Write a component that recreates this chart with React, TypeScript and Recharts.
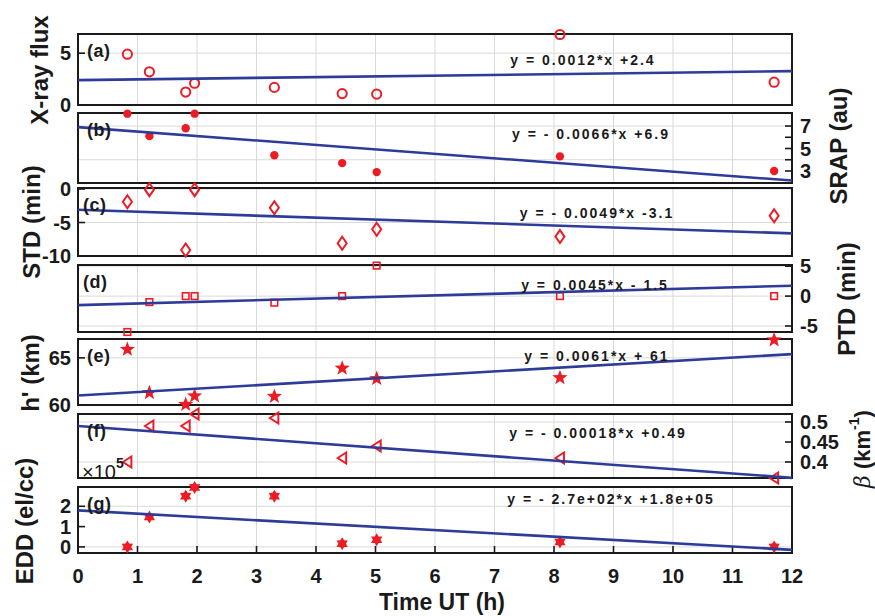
import React from "react";
import { ScatterChart, Scatter, XAxis, YAxis, CartesianGrid } from "recharts";

// event times (UT hours), shared by every panel
const hours = [0.83, 1.2, 1.81, 1.96, 3.3, 4.44, 5.02, 8.1, 11.7];

const xrayFlux = [4.9, 3.2, 1.25, 2.1, 1.7, 1.1, 1.05, 6.8, 2.2];
const srap = [8.1, 6.1, 6.8, 8.1, 4.4, 3.7, 2.9, 4.3, 3.0];
const std = [-1.9, -0.1, -9.1, -0.1, -2.8, -8.1, -6.0, -7.1, -4.0];
const ptd = [-6.0, -1.0, 0, 0, -1.1, 0, 5.1, 0, 0];
const hPrime = [65.9, 61.3, 60.05, 60.95, 60.9, 63.9, 62.8, 62.9, 66.9];
const beta = [0.4, 0.49, 0.49, 0.52, 0.51, 0.41, 0.44, 0.41, 0.36];
const edd = [0.0, 1.47, 2.5, 2.93, 2.5, 0.16, 0.35, 0.24, 0.0]; // x 1e5

// linear fits, x in minutes
const fitSlope = [0.0012, -0.0066, -0.0049, 0.0045, 0.0061, -0.00018, -0.0027];
const fitIntercept = [2.4, 6.9, -3.1, -1.5, 61, 0.49, 1.8];
const fitLabels = [
  "y = 0.0012*x +2.4",
  "y = - 0.0066*x +6.9",
  "y = - 0.0049*x -3.1",
  "y = 0.0045*x - 1.5",
  "y = 0.0061*x + 61",
  "y = - 0.00018*x +0.49",
  "y = - 2.7e+02*x +1.8e+05",
];
const panelLetters = ["(a)", "(b)", "(c)", "(d)", "(e)", "(f)", "(g)"];

const xTicks = [0, 1, 2, 3, 4, 5, 6, 7, 8, 9, 10, 11, 12];
const xGrid = [1, 2, 3, 4, 5, 6, 7, 8, 9, 10, 11];

const RED = "#ec1c24";
const BLUE = "#2e3b98";
const INK = "#1a1a1a";
const FONT = "'Liberation Sans', Arial, Helvetica, sans-serif";

const openCircle = (p: any) => (
  <circle cx={p.cx} cy={p.cy} r={4.6} fill="none" stroke={RED} strokeWidth={2} />
);
const dot = (p: any) => <circle cx={p.cx} cy={p.cy} r={4.2} fill={RED} />;
const diamond = (p: any) => (
  <polygon
    points={`${p.cx},${p.cy - 6.5} ${p.cx + 4.5},${p.cy} ${p.cx},${p.cy + 6.5} ${p.cx - 4.5},${p.cy}`}
    fill="none"
    stroke={RED}
    strokeWidth={2}
  />
);
const square = (p: any) => (
  <rect x={p.cx - 3.3} y={p.cy - 3.3} width={6.6} height={6.6} fill="none" stroke={RED} strokeWidth={1.6} />
);
const starPoints = (cx: number, cy: number, n: number, ro: number, ri: number) => {
  const pts: string[] = [];
  for (let i = 0; i < n * 2; i++) {
    const r = i % 2 === 0 ? ro : ri;
    const a = -Math.PI / 2 + (i * Math.PI) / n;
    pts.push(`${cx + r * Math.cos(a)},${cy + r * Math.sin(a)}`);
  }
  return pts.join(" ");
};
const star = (p: any) => <polygon points={starPoints(p.cx, p.cy, 5, 8, 3.3)} fill={RED} />;
const hexagram = (p: any) => <polygon points={starPoints(p.cx, p.cy, 6, 6.5, 3.8)} fill={RED} />;
const leftTriangle = (p: any) => (
  <polygon
    points={`${p.cx - 4.5},${p.cy} ${p.cx + 4},${p.cy - 5.5} ${p.cx + 4},${p.cy + 5.5}`}
    fill="none"
    stroke={RED}
    strokeWidth={2}
  />
);
const noShape = () => <g />;

type PanelProps = {
  idx: number;
  top: number;
  bottom: number;
  values: number[];
  domain: [number, number];
  ticks: number[];
  side: "left" | "right";
  marker: (p: any) => React.ReactElement;
  format?: (v: number) => string;
  showX?: boolean;
};

const tickFont = { fill: INK, fontSize: 20, fontWeight: 700, fontFamily: FONT };
const axisLine = { stroke: INK, strokeWidth: 2, strokeLinecap: "square" as const };
const tickLine = { stroke: INK, strokeWidth: 1.6 };

const padTop = 12;
const padBottomOf = (showX?: boolean) => (showX ? 40 : 12);

// light grid, drawn in its own chart underneath so the box and ticks stay on top
function PanelGrid({ top, bottom, values, domain, ticks, showX }: PanelProps) {
  const padBottom = padBottomOf(showX);
  const data = hours.map((x, i) => ({ x, y: values[i] }));
  const yGrid = ticks.filter((t) => t > domain[0] && t < domain[1]);
  return (
    <div style={{ position: "absolute", left: 0, top: top - padTop }}>
      <ScatterChart
        width={875}
        height={bottom - top + padTop + padBottom}
        margin={{ top: padTop, right: 83, bottom: padBottom, left: 78 }}
      >
        <CartesianGrid
          xAxisId="g"
          yAxisId="g"
          stroke="#d9d9d9"
          strokeWidth={1}
          verticalValues={xGrid}
          horizontalValues={yGrid}
        />
        <XAxis xAxisId="g" dataKey="x" type="number" domain={[0, 12]} ticks={xTicks} hide />
        <YAxis yAxisId="g" dataKey="y" type="number" domain={domain} ticks={ticks} hide />
        <Scatter data={data} xAxisId="g" yAxisId="g" shape={noShape} isAnimationActive={false} />
      </ScatterChart>
    </div>
  );
}

function Panel({ idx, top, bottom, values, domain, ticks, side, marker, format, showX }: PanelProps) {
  const padBottom = padBottomOf(showX);
  const data = hours.map((x, i) => ({ x, y: values[i] }));
  const fit = [0, 12].map((x) => ({ x, y: fitIntercept[idx] + fitSlope[idx] * 60 * x }));
  return (
    <div style={{ position: "absolute", left: 0, top: top - padTop }}>
      <ScatterChart
        width={875}
        height={bottom - top + padTop + padBottom}
        margin={{ top: padTop - 1, right: 0, bottom: padBottom - 1, left: 0 }}
      >
        <XAxis
          xAxisId="b"
          dataKey="x"
          type="number"
          domain={[0, 12]}
          ticks={xTicks}
          interval={0}
          height={1}
          tickSize={-7}
          tickMargin={23}
          axisLine={axisLine}
          tickLine={tickLine}
          tick={showX ? tickFont : false}
        />
        <XAxis
          xAxisId="t"
          dataKey="x"
          type="number"
          orientation="top"
          domain={[0, 12]}
          ticks={xTicks}
          interval={0}
          height={1}
          tickSize={-7}
          axisLine={axisLine}
          tickLine={tickLine}
          tick={false}
        />
        <YAxis
          yAxisId="l"
          dataKey="y"
          type="number"
          domain={domain}
          ticks={ticks}
          interval={0}
          width={78}
          tickSize={-7}
          tickMargin={14}
          axisLine={axisLine}
          tickLine={tickLine}
          tick={side === "left" ? tickFont : false}
          tickFormatter={format}
        />
        <YAxis
          yAxisId="r"
          dataKey="y"
          type="number"
          orientation="right"
          domain={domain}
          ticks={ticks}
          interval={0}
          width={83}
          tickSize={-7}
          tickMargin={15}
          axisLine={axisLine}
          tickLine={tickLine}
          tick={side === "right" ? tickFont : false}
          tickFormatter={format}
        />
        <Scatter data={data} xAxisId="b" yAxisId="l" shape={marker} isAnimationActive={false} />
        <Scatter
          data={fit}
          xAxisId="t"
          yAxisId="r"
          line={{ stroke: BLUE, strokeWidth: 2.6 }}
          shape={noShape}
          isAnimationActive={false}
        />
      </ScatterChart>
    </div>
  );
}

const oddOnly = (v: number) => (Math.round(v) % 2 !== 0 ? String(v) : "");

const panels: Omit<PanelProps, "idx">[] = [
  { top: 34, bottom: 105, values: xrayFlux, domain: [0, 6.85], ticks: [0, 5], side: "left", marker: openCircle },
  { top: 113, bottom: 183, values: srap, domain: [1.93, 8.16], ticks: [3, 4, 5, 6, 7], side: "right", marker: dot, format: oddOnly },
  { top: 188, bottom: 256, values: std, domain: [-10, 0.15], ticks: [-10, -5, 0], side: "left", marker: diamond },
  { top: 265, bottom: 332, values: ptd, domain: [-6, 5.2], ticks: [-5, 0, 5], side: "right", marker: square },
  { top: 339, bottom: 405, values: hPrime, domain: [60, 67], ticks: [60, 65], side: "left", marker: star },
  { top: 414, bottom: 478, values: beta, domain: [0.36, 0.52], ticks: [0.4, 0.45, 0.5], side: "right", marker: leftTriangle },
  { top: 487, bottom: 553, values: edd, domain: [-0.3, 2.95], ticks: [0, 1, 2], side: "left", marker: hexagram, showX: true },
];

const eqPos = [
  [583, 60],
  [591, 134],
  [597, 213],
  [595, 285],
  [597, 356],
  [598, 433],
  [611, 499],
];

const titleStyle = { fontFamily: FONT, fontSize: 24, fontWeight: 700, fill: INK };

export default function App() {
  return (
    <div style={{ position: "absolute", left: 0, top: 0, width: 875, height: 616, background: "#fff" }}>
      {panels.map((p, i) => (
        <PanelGrid key={"g" + i} idx={i} {...p} />
      ))}
      {panels.map((p, i) => (
        <Panel key={"p" + i} idx={i} {...p} />
      ))}
      <svg
        width={875}
        height={616}
        style={{ position: "absolute", left: 0, top: 0, pointerEvents: "none" }}
      >
        {panels.map((p, i) => (
          <text
            key={"l" + i}
            x={i === 2 || i === 3 ? 83 : 87}
            y={p.top + 17}
            dominantBaseline="central"
            fontFamily={FONT}
            fontSize={18}
            fontWeight={700}
            fill={INK}
            letterSpacing={0.5}
          >
            {panelLetters[i]}
          </text>
        ))}
        {fitLabels.map((t, i) => (
          <text
            key={"e" + i}
            x={eqPos[i][0]}
            y={eqPos[i][1]}
            textAnchor="middle"
            dominantBaseline="central"
            fontFamily={FONT}
            fontSize={14}
            fontWeight={700}
            fill={INK}
            letterSpacing={2}
          >
            {t}
          </text>
        ))}
        <text x={82} y={479} fontFamily={FONT} fontSize={20} fill={INK}>
          ×10
          <tspan dy={-11} fontSize={14} fontWeight={700}>
            5
          </tspan>
        </text>
        <text transform="translate(39,70) rotate(-90)" textAnchor="middle" dominantBaseline="central" {...titleStyle}>
          X-ray flux
        </text>
        <text transform="translate(31,222) rotate(-90)" textAnchor="middle" dominantBaseline="central" {...titleStyle}>
          STD (min)
        </text>
        <text transform="translate(30,373) rotate(-90)" textAnchor="middle" dominantBaseline="central" {...titleStyle}>
          h' (km)
        </text>
        <text transform="translate(24,521) rotate(-90)" textAnchor="middle" dominantBaseline="central" {...titleStyle}>
          EDD (el/cc)
        </text>
        <text transform="translate(838,146) rotate(-90)" textAnchor="middle" dominantBaseline="central" {...titleStyle}>
          SRAP (au)
        </text>
        <text transform="translate(846,299) rotate(-90)" textAnchor="middle" dominantBaseline="central" {...titleStyle}>
          PTD (min)
        </text>
        <text
          transform="translate(862,449) rotate(-90)"
          textAnchor="middle"
          dominantBaseline="central"
          {...titleStyle}
          fontSize={22}
        >
          <tspan fontStyle="italic" fontWeight={400} fontFamily="'DejaVu Serif', serif">
            β
          </tspan>
          <tspan> (km</tspan>
          <tspan dy={-8} fontSize={14}>
            -1
          </tspan>
          <tspan dy={8}>)</tspan>
        </text>
        <text x={442} y={602} textAnchor="middle" dominantBaseline="central" {...titleStyle} fontSize={23}>
          Time UT (h)
        </text>
      </svg>
    </div>
  );
}
